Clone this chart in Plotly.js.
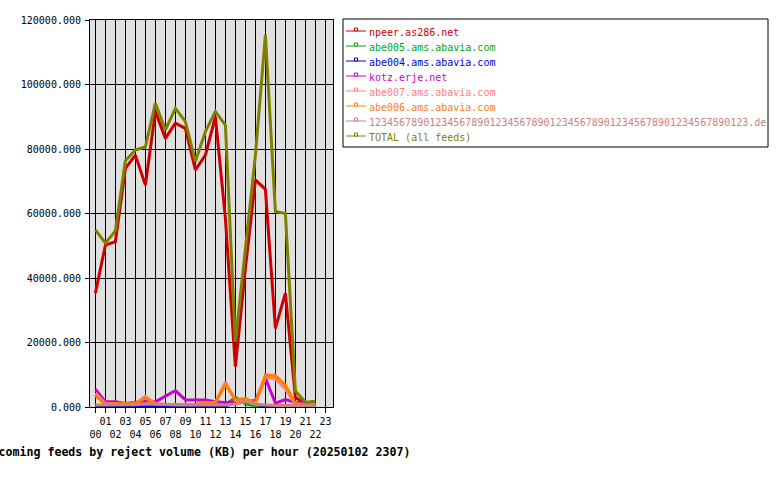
<!DOCTYPE html>
<html>
<head>
<meta charset="utf-8">
<script src="https://cdn.plot.ly/plotly-3.0.1.min.js"></script>
<style>
html,body{margin:0;padding:0;background:#fff;}
#chart{width:780px;height:480px;}
</style>
</head>
<body>
<div id="chart"></div>
<script>
// ---- data ----
const hours = [0,1,2,3,4,5,6,7,8,9,10,11,12,13,14,15,16,17,18,19,20,21,22];
const tickHours = [0,1,2,3,4,5,6,7,8,9,10,11,12,13,14,15,16,17,18,19,20,21,22,23];
const tickLabels = ['00','01','02','03','04','05','06','07','08','09','10','11','12','13','14','15','16','17','18','19','20','21','22','23'];

const seriesNames = [
  'npeer.as286.net',
  'abe005.ams.abavia.com',
  'abe004.ams.abavia.com',
  'kotz.erje.net',
  'abe007.ams.abavia.com',
  'abe006.ams.abavia.com',
  '123456789012345678901234567890123456789012345678901234567890123.de',
  'TOTAL (all feeds)'
];
const npeer  = [35300,50200,51300,74000,78100,68800,91600,83300,88000,86400,73500,78100,90000,58500,12500,43000,70400,67500,24400,35300,3000,800,500];
const abe005 = [300,300,300,300,300,300,300,300,300,300,300,300,300,600,3000,1000,300,300,300,300,300,300,300];
const abe004 = [300,300,300,300,300,300,300,300,300,300,300,300,300,300,1500,2300,800,300,300,300,300,300,300];
const kotz   = [5500,1600,1600,1100,1400,2000,1600,3400,5100,2200,2200,2200,1600,1400,1600,1700,2000,8900,1200,2300,1400,1100,1100];
const abe007 = [4300,1000,1100,1100,1100,3300,1000,800,800,800,800,1200,1500,7700,2000,2500,1000,9300,8700,5600,800,700,700];
const abe006 = [3500,800,1100,1100,1100,2800,1000,800,800,800,800,1300,1400,7000,2200,2700,1100,9900,9800,6800,1000,800,800];
const longde = [600,600,600,600,700,900,900,800,600,600,600,600,600,600,900,1700,800,600,500,500,500,500,500];
const total  = [54900,50800,54600,76400,79700,80700,94200,85900,92600,88500,76100,85400,91600,87400,20200,50000,78000,115400,60600,60000,5000,1500,1800];

const seriesValues = [npeer, abe005, abe004, kotz, abe007, abe006, longde, total];
const seriesColors = ['#cc0000','#00aa00','#0000cc','#cc00cc','#ff8080','#ff8000','#cc8080','#808000'];

// ---- layout geometry (pixels) ----
const W = 780, H = 480;
const ML = 90, MR = 447, MT = 20, MB = 73;
const PW = W - ML - MR, PH = H - MT - MB;
const px = x => (x - ML) / PW;
const py = y => (H - MB - y) / PH;

const MONO = 'DejaVu Sans Mono';

const traces = seriesValues.map((vals, i) => ({
  type: 'scatter',
  mode: 'lines',
  x: hours,
  y: vals,
  name: seriesNames[i],
  line: {color: seriesColors[i], width: 3},
  showlegend: false,
  hoverinfo: 'skip'
}));

// manual legend
const shapes = [];
const annotations = [];
shapes.push({type:'rect', xref:'paper', yref:'paper', x0:px(343), x1:px(768), y0:py(19), y1:py(147),
  line:{color:'#000', width:1}, fillcolor:'#fff', layer:'above'});
seriesNames.forEach((n, i) => {
  const yc = 32.5 + 15 * i;
  shapes.push({type:'line', xref:'paper', yref:'paper', x0:px(346), x1:px(366), y0:py(yc-1.5), y1:py(yc-1.5),
    line:{color:seriesColors[i], width:1}, layer:'above'});
  shapes.push({type:'rect', xref:'paper', yref:'paper', x0:px(354.5), x1:px(357.5), y0:py(yc-4.5), y1:py(yc-1.5),
    line:{color:seriesColors[i], width:1}, fillcolor:'#fff', layer:'above'});
  annotations.push({xref:'paper', yref:'paper', x:px(367), y:py(yc), xanchor:'left', yanchor:'middle',
    text:n, showarrow:false, font:{family:MONO, size:10, color:seriesColors[i]}});
});

const layout = {
  width: W, height: H,
  margin: {l: ML, r: MR, t: MT, b: MB, pad: 0},
  paper_bgcolor: '#ffffff',
  plot_bgcolor: '#e0e0e0',
  showlegend: false,
  font: {family: MONO, size: 10, color: '#000'},
  title: {
    text: 'Incoming feeds by reject volume (KB) per hour (20250102 2307)',
    font: {family: MONO, size: 11.6, color: '#000', weight: 'bold'},
    xref: 'container', yref: 'container',
    x: 197.5 / W, y: 1 - 452 / H, xanchor: 'center', yanchor: 'middle'
  },
  xaxis: {
    range: [-0.54, 23.76],
    tickmode: 'array',
    tickvals: tickHours,
    ticktext: tickLabels.map((t, i) => (i % 2 ? t : '<br>' + t)),
    ticks: 'outside', ticklen: 5, tickcolor: '#000', tickwidth: 1,
    showgrid: true, gridcolor: '#000', gridwidth: 1,
    zeroline: false,
    showline: true, mirror: true, linecolor: '#000', linewidth: 1,
    tickfont: {family: MONO, size: 10, color: '#000'},
    tickangle: 0,
    fixedrange: true
  },
  yaxis: {
    range: [0, 120000],
    tickmode: 'linear', tick0: 0, dtick: 20000,
    tickformat: '.3f',
    ticks: 'outside', ticklen: 4, tickcolor: '#000', tickwidth: 1,
    ticklabelstandoff: 2,
    showgrid: true, gridcolor: '#000', gridwidth: 1,
    zeroline: false,
    showline: true, mirror: true, linecolor: '#000', linewidth: 1,
    tickfont: {family: MONO, size: 10, color: '#000'},
    fixedrange: true
  },
  shapes: shapes,
  annotations: annotations
};

Plotly.newPlot('chart', traces, layout, {staticPlot: true, displayModeBar: false});
</script>
</body>
</html>
